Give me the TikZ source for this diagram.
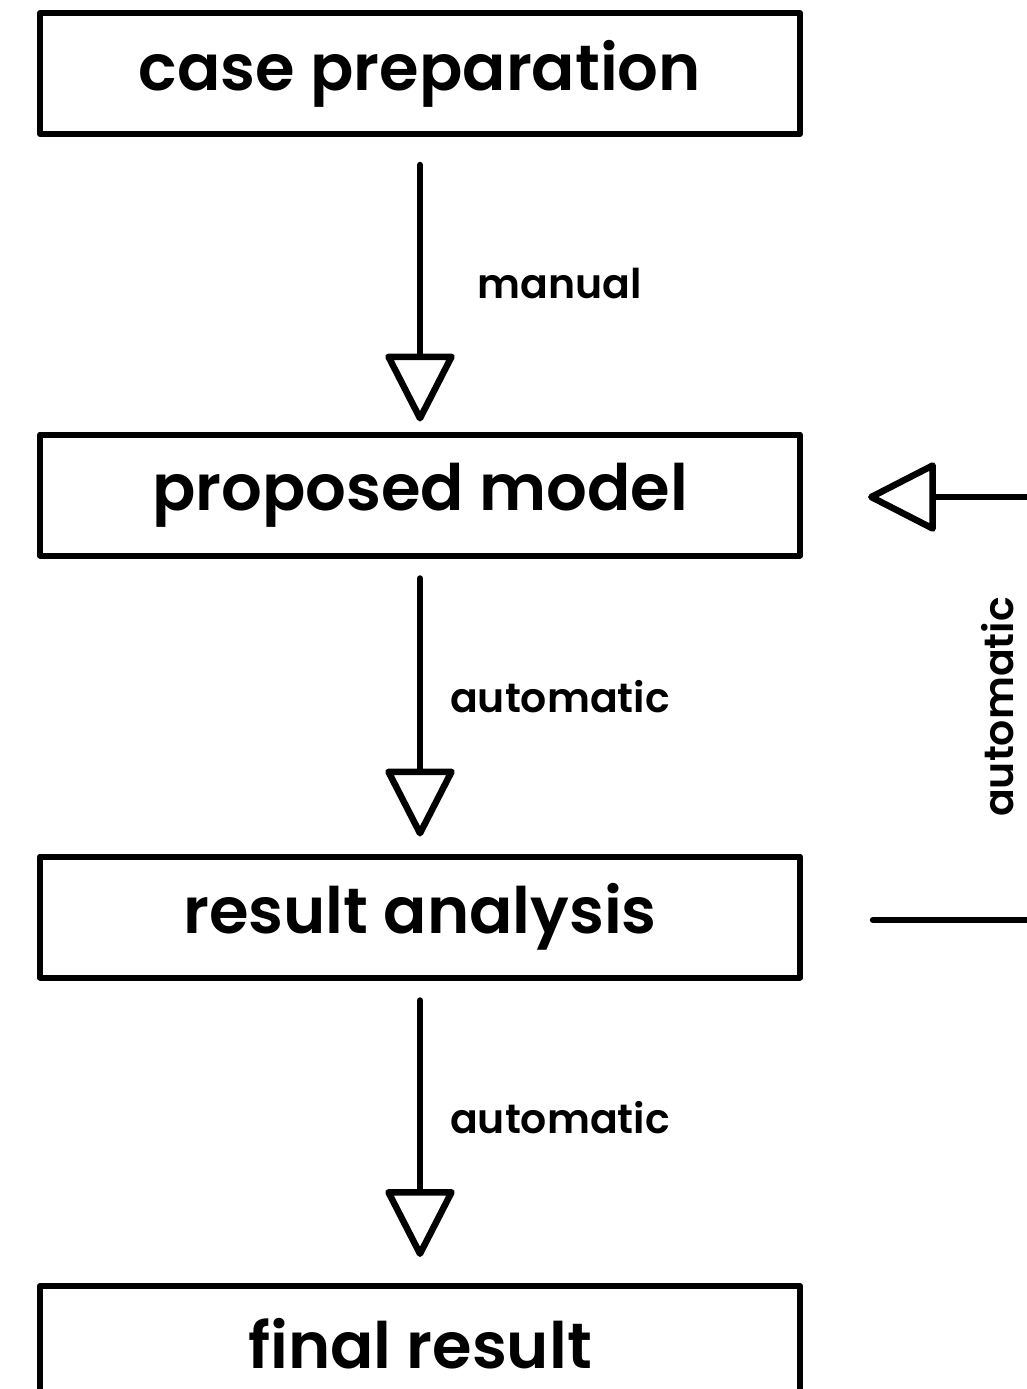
\documentclass[tikz,border=0pt]{standalone}
\usepackage{fontspec}
\setmainfont{Poppins}[BoldFont={Poppins SemiBold}]
\usetikzlibrary{arrows.meta}
\begin{document}
\begin{tikzpicture}[x=1pt,y=1pt,
  box/.style={draw, line width=6pt, line join=round, minimum width=760pt, minimum height=121pt, inner sep=0pt, font=\fontsize{64}{64}\selectfont\bfseries},
  flow/.style={line width=6.5pt, line join=round, line cap=round, -{Triangle[open,length=72pt,width=72pt,line width=6.5pt,round]}},
  lbl/.style={font=\fontsize{41}{41}\selectfont\bfseries}]
\useasboundingbox (0,0) rectangle (1026,-1389);
\node[box] (prep) at (420,-73.5) {\raisebox{-3pt}{case preparation}};
\node[box] (model) at (420,-495) {proposed model};
\node[box] (analysis) at (420,-917) {result analysis};
\node[box] (final) at (420,-1346.5) {\raisebox{6pt}{final result}};
\draw[flow, shorten <=28pt, shorten >=10pt] (prep.south) -- (model.north);
\draw[flow, shorten <=20pt, shorten >=17pt] (model.south) -- (analysis.north);
\draw[flow, shorten <=20pt, shorten >=26pt] (analysis.south) -- (final.north);
\node[lbl] (l1) at (560,-284) {manual};
\node[lbl] (l2) at (560,-697) {automatic};
\node[lbl] (l3) at (560,-1118) {automatic};
\coordinate (rin) at (1034,-497);
\coordinate (rout) at (1034,-920);
\draw[flow, shorten >=65pt] (rin) -- (model.east |- rin);
\draw[line width=6.5pt, line cap=round, shorten <=70pt] (analysis.east |- rout) -- (rout);
\node[lbl, rotate=90] (l4) at (998,-707) {automatic};
\end{tikzpicture}
\end{document}
